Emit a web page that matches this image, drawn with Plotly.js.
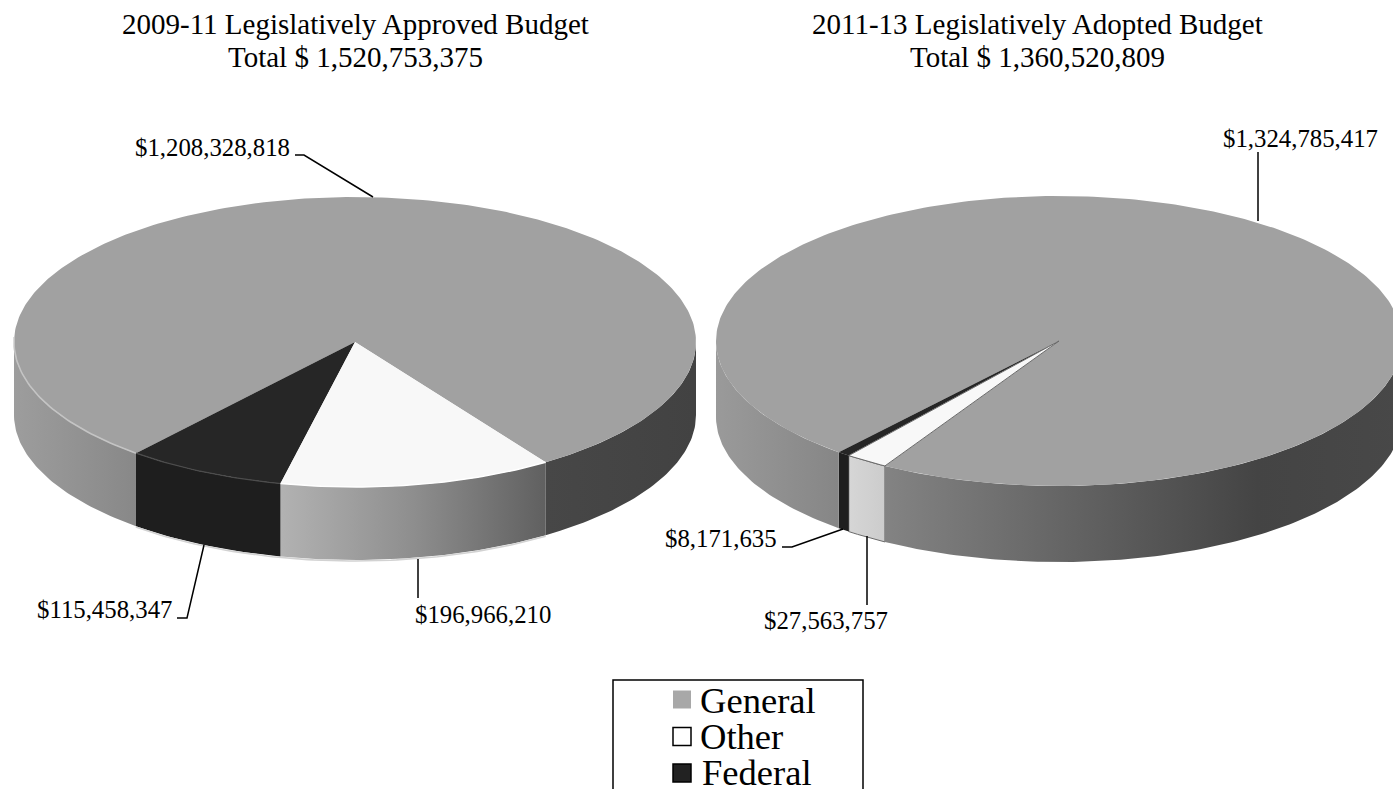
<!DOCTYPE html>
<html>
<head>
<meta charset="utf-8">
<script src="https://cdn.plot.ly/plotly-3.0.1.min.js"></script>
<style>html,body{margin:0;padding:0;background:#fff;overflow:hidden}</style>
</head>
<body>
<div id="chart" style="width:1393px;height:789px"></div>
<script>
// Budget by fund, in dollars
const categories = ["General", "Other", "Federal"];
const budget0911 = [1208328818, 196966210, 115458347];
const budget1113 = [1324785417, 27563757, 8171635];
const titles = ["2009-11 Legislatively Approved Budget", "2011-13 Legislatively Adopted Budget"];

const FONT = "Liberation Serif, Times New Roman, serif";
const topColors = {General: "#a1a1a1", Other: "#f8f8f8", Federal: "#262626"};
const swatchColors = {General: "#a8a8a8", Other: "#ffffff", Federal: "#222222"};

const pies = [
  {
    values: budget0911, title: titles[0], titleX: 355,
    cx: 355, cy: 342, rx: 341, ry: 145, depth: 73, firstAngle: 34,
    walls: {
      General: [[[0, "#9d9d9d"], [1, "#888888"]], [[0, "#474747"], [1, "#424242"]]],
      Other: [[[0, "#b2b2b2"], [0.5, "#8e8e8e"], [1, "#606060"]]],
      Federal: [[[0, "#1e1e1e"], [1, "#1e1e1e"]]]
    },
    outline: null, rim: true,
    labels: [
      {x: 292, y: 147, anchor: "right", leader: [[295, 155], [304, 155], [373, 197]]},
      {x: 413, y: 614, anchor: "left", leader: [[418, 559], [418, 598]]},
      {x: 174, y: 609, anchor: "right", leader: [[177, 618], [187, 618], [204, 545]]}
    ]
  },
  {
    values: budget1113, title: titles[1], titleX: 1037,
    cx: 1059, cy: 341, rx: 343, ry: 145, depth: 76, firstAngle: -30.5,
    walls: {
      General: [[[0, "#9a9a9a"], [1, "#868686"]], [[0, "#838383"], [0.72, "#444444"], [1, "#484848"]]],
      Other: [[[0, "#d6d6d6"], [1, "#cccccc"]]],
      Federal: [[[0, "#1e1e1e"], [1, "#1e1e1e"]]]
    },
    outline: "#6a6a6a", rim: false,
    labels: [
      {x: 1221, y: 138, anchor: "left", leader: [[1258, 152], [1258, 221]]},
      {x: 762, y: 620, anchor: "left", leader: [[867, 536], [867, 605]]},
      {x: 779, y: 538, anchor: "right", leader: [[782, 547], [792, 547], [843, 529]]}
    ]
  }
];

const money = v => "$" + v.toLocaleString("en-US");
const range = (a, b) => {
  const n = Math.max(2, Math.ceil(Math.abs(b - a)));
  return Array.from({length: n + 1}, (_, i) => a + (b - a) * i / n);
};
// Angles run from the front of the disc: 0 is straight down, +90 is the right edge.
const px = (p, deg) => p.cx + p.rx * Math.sin(deg * Math.PI / 180);
const py = (p, deg, drop = 0) => p.cy + p.ry * Math.cos(deg * Math.PI / 180) + drop;

const traces = [];
const annotations = [];
const shapes = [];

const note = (text, x, y, size, anchor) => annotations.push({
  text, x, y, xref: "x", yref: "y", showarrow: false, xanchor: anchor, yanchor: "middle",
  font: {family: FONT, size, color: "#000"}
});

function polygon(xs, ys, style) {
  traces.push(Object.assign({
    type: "scatter", mode: "lines", x: xs, y: ys, fill: "toself",
    line: {width: 0}, hoverinfo: "skip", showlegend: false
  }, style));
}

pies.forEach(p => {
  const total = p.values.reduce((a, b) => a + b, 0);
  // Slices run clockwise from firstAngle: Other, Federal, then General round the back.
  const order = [1, 2, 0];
  let angle = p.firstAngle;
  const spans = order.map(i => {
    const sweep = 360 * p.values[i] / total;
    const span = {cat: categories[i], from: angle, to: angle - sweep};
    angle -= sweep;
    return span;
  });

  // Front wall, only the part of each slice that faces the viewer
  spans.forEach(s => {
    let piece = 0;
    [0, 360].forEach(shift => {
      const hi = Math.min(s.from + shift, 90);
      const lo = Math.max(s.to + shift, -90);
      if (hi <= lo) return;
      const arc = range(lo, hi);
      const xs = arc.map(d => px(p, d)).concat(arc.slice().reverse().map(d => px(p, d)));
      const ys = arc.map(d => py(p, d)).concat(arc.slice().reverse().map(d => py(p, d, p.depth)));
      const style = {fillgradient: {type: "horizontal", colorscale: p.walls[s.cat][piece]}};
      if (p.outline && s.cat === "Other") style.line = {width: 1, color: p.outline};
      polygon(xs.concat(xs[0]), ys.concat(ys[0]), style);
      piece++;
    });
  });

  // Top face, General first so the narrow slices lie over it
  spans.slice().reverse().forEach(s => {
    const arc = range(s.from, s.to);
    const xs = [p.cx, ...arc.map(d => px(p, d)), p.cx];
    const ys = [p.cy, ...arc.map(d => py(p, d)), p.cy];
    const style = {fillcolor: topColors[s.cat]};
    if (p.outline && s.cat === "Other") style.line = {width: 1, color: p.outline};
    polygon(xs, ys, style);
  });

  // Soft bevel along the front edge of the top face and a faint shadow beneath the disc
  if (p.rim) {
    const fed = spans[1], other = spans[0];
    const rim = (a, b, color, w, drop = 0) => {
      const arc = range(a, b);
      traces.push({
        type: "scatter", mode: "lines",
        x: arc.map(d => px(p, d)), y: arc.map(d => py(p, d, drop)),
        line: {width: w, color}, hoverinfo: "skip", showlegend: false
      });
    };
    rim(-92, fed.to, "#c4c4c4", 1.6);
    rim(fed.to, fed.from, "#4c4c4c", 1.2);
    rim(other.to, other.from, "#ffffff", 1.4);
    rim(-40, other.from, "#d2d2d2", 1.6, p.depth + 1);
  }

  // Dollar labels and their leader lines
  p.values.forEach((v, i) => {
    const lab = p.labels[i];
    note(money(v), lab.x, lab.y, 24.8, lab.anchor);
    traces.push({
      type: "scatter", mode: "lines",
      x: lab.leader.map(q => q[0]), y: lab.leader.map(q => q[1]),
      line: {width: 1.5, color: "#000"}, hoverinfo: "skip", showlegend: false
    });
  });

  note(p.title, p.titleX, 24, 29, "center");
  note("Total $ " + total.toLocaleString("en-US"), p.titleX, 57, 29, "center");
});

// Key box; its lower edge runs off the page
const keyY = [699.5, 736.5, 773];
const textY = [700, 736, 772];
const textX = [698, 698, 700];
shapes.push({type: "rect", xref: "x", yref: "y", x0: 613, x1: 863, y0: 680, y1: 830,
  line: {width: 1.5, color: "#000"}, fillcolor: "rgba(0,0,0,0)"});
traces.push({
  type: "scatter", mode: "markers", x: categories.map(() => 682), y: keyY,
  marker: {symbol: "square", size: 18,
    color: categories.map(c => swatchColors[c]),
    line: {width: [0, 1.5, 1.5], color: "#000"}},
  hoverinfo: "skip", showlegend: false
});
categories.forEach((c, i) => note(c, textX[i], textY[i], 36.6, "left"));

Plotly.newPlot("chart", traces, {
  width: 1393, height: 789, autosize: false,
  margin: {l: 0, r: 0, t: 0, b: 0, pad: 0},
  paper_bgcolor: "#fff", plot_bgcolor: "#fff", showlegend: false,
  xaxis: {range: [0, 1393], visible: false, fixedrange: true},
  yaxis: {range: [789, 0], visible: false, fixedrange: true},
  annotations, shapes
}, {displayModeBar: false, staticPlot: true});
</script>
</body>
</html>
